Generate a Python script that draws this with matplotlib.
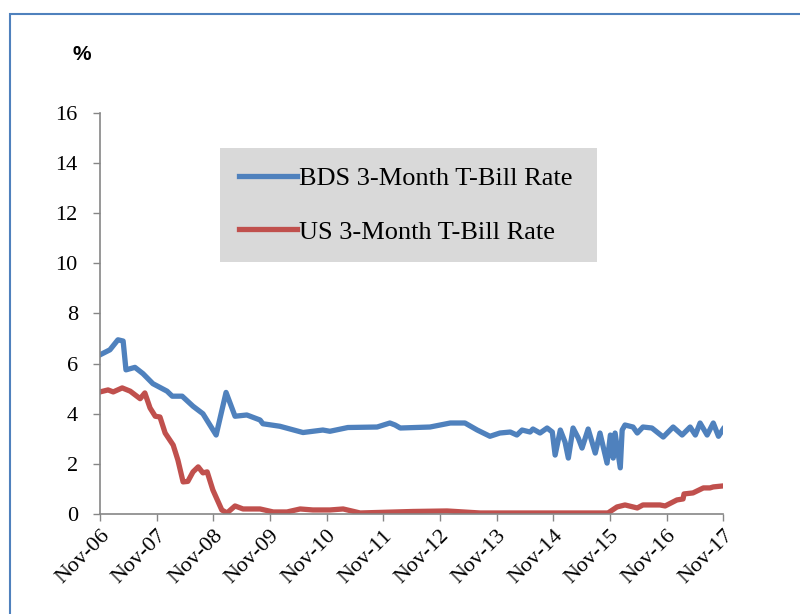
import matplotlib
matplotlib.use('Agg')
import matplotlib.pyplot as plt
from matplotlib.patches import Rectangle

# months since Nov-06
bds_month = [0, 2.1, 3.8, 4.9, 5.5, 7.4, 9.1, 11.2, 14.2, 15.3, 17.4, 19.7, 21.8, 24.6,
             26.7, 28.6, 31.1, 33.9, 34.5, 38.1, 43, 47.2, 48.7, 52.5, 58.7, 61.4, 62.5,
             63.6, 69.9, 74.2, 77.3, 79.9, 82.6, 84.7, 86.9, 88.3, 89.4, 91.1, 91.7, 93.2,
             94.7, 95.8, 96.4, 97.5, 98.5, 99.2, 100.2, 101.3, 102.1, 103.4, 104.9, 105.9,
             107.4, 108.1, 108.7, 109.1, 110.2, 110.6, 111.2, 112.9, 113.8, 115, 116.9,
             119.3, 121.4, 123.3, 125, 126.1, 127.1, 128.6, 129.9, 131, 132]
bds_rate = [6.35, 6.55, 6.95, 6.9, 5.75, 5.85, 5.6, 5.2, 4.9, 4.7, 4.7, 4.3, 4.0, 3.15,
            4.85, 3.9, 3.95, 3.75, 3.6, 3.5, 3.25, 3.35, 3.3, 3.45, 3.47, 3.63, 3.55,
            3.43, 3.47, 3.63, 3.63, 3.35, 3.1, 3.23, 3.27, 3.15, 3.35, 3.27, 3.39, 3.23,
            3.43, 3.27, 2.35, 3.35, 2.87, 2.23, 3.43, 3.03, 2.63, 3.39, 2.43, 3.23,
            2.03, 3.15, 2.23, 3.23, 1.84, 3.35, 3.55, 3.47, 3.23, 3.47, 3.43,
            3.07, 3.47, 3.15, 3.47, 3.15, 3.63, 3.15, 3.63, 3.1, 3.39]

us_month = [0, 1.7, 2.8, 4.7, 6.4, 8.5, 9.5, 10.6, 11.7, 12.7, 13.8, 15.5, 16.5, 17.6,
            18.6, 19.7, 20.8, 21.8, 22.7, 23.9, 25.8, 26.9, 28.6, 30.3, 33.9, 36.7,
            39.6, 42.4, 45.1, 48.7, 51.5, 55.1, 66.3, 73.5, 80.5, 91.1, 107.6, 109.5,
            111.2, 113.8, 115, 118.6, 119.7, 122.2, 123.5, 123.7, 125.6, 127.8, 129.2,
            129.9, 132]
us_rate = [4.87, 4.95, 4.87, 5.03, 4.9, 4.6, 4.83, 4.23, 3.9, 3.87, 3.23, 2.75, 2.15, 1.28,
           1.3, 1.68, 1.88, 1.64, 1.68, 0.96, 0.16, 0.04, 0.32, 0.2, 0.2, 0.08,
           0.08, 0.2, 0.16, 0.16, 0.2, 0.04, 0.1, 0.12, 0.04, 0.04, 0.04, 0.28,
           0.36, 0.24, 0.36, 0.36, 0.32, 0.56, 0.6, 0.8, 0.84, 1.04, 1.04,
           1.08, 1.12]

tick_labels = ['Nov-06', 'Nov-07', 'Nov-08', 'Nov-09', 'Nov-10', 'Nov-11',
               'Nov-12', 'Nov-13', 'Nov-14', 'Nov-15', 'Nov-16', 'Nov-17']

serif = 'Liberation Serif'
fig = plt.figure(figsize=(8, 6.14), dpi=100)
ax = fig.add_axes([0.125, 0.1629, 0.779, 0.6531])

ax.plot(bds_month, bds_rate, color='#4F81BD', lw=3.8, label='BDS 3-Month T-Bill Rate',
        solid_joinstyle='round')
ax.plot(us_month, us_rate, color='#C0504D', lw=3.8, label='US 3-Month T-Bill Rate',
        solid_joinstyle='round')

ax.set_xlim(0, 132)
ax.set_ylim(0, 16)
ax.set_yticks(range(0, 17, 2))
ax.set_xticks(range(0, 133, 12))
ax.set_xticklabels(tick_labels, rotation=45, ha='right', rotation_mode='anchor',
                   family=serif, fontsize=16)
for lab in ax.get_yticklabels():
    lab.set_family(serif)
    lab.set_fontsize(16)
ax.tick_params(axis='both', color='#868686', length=5, width=1)
ax.tick_params(axis='y', pad=11)
ax.tick_params(axis='x', pad=4)
for s in ['top', 'right']:
    ax.spines[s].set_visible(False)
for s in ['left', 'bottom']:
    ax.spines[s].set_color('#868686')
    ax.spines[s].set_linewidth(1.2)

leg = ax.legend(loc='upper left', bbox_to_anchor=(0.193, 0.613, 0.605, 0.30),
                mode='expand', prop={'family': serif, 'size': 19}, frameon=True,
                facecolor='#D9D9D9', edgecolor='#D9D9D9', framealpha=1, fancybox=False,
                handlelength=2.2, handletextpad=0.08, labelspacing=1.15,
                borderpad=0.7, borderaxespad=0)
leg.get_frame().set_linewidth(0)

fig.text(0.091, 0.902, '%', fontsize=15, fontweight='bold', family='Liberation Sans')

fig.patches.append(Rectangle((10 / 800, -0.1), 1.2, 1.1 - 14 / 614,
                             transform=fig.transFigure, fill=False,
                             edgecolor='#4F81BD', lw=1.5))

fig.savefig('out.png', dpi=100)
